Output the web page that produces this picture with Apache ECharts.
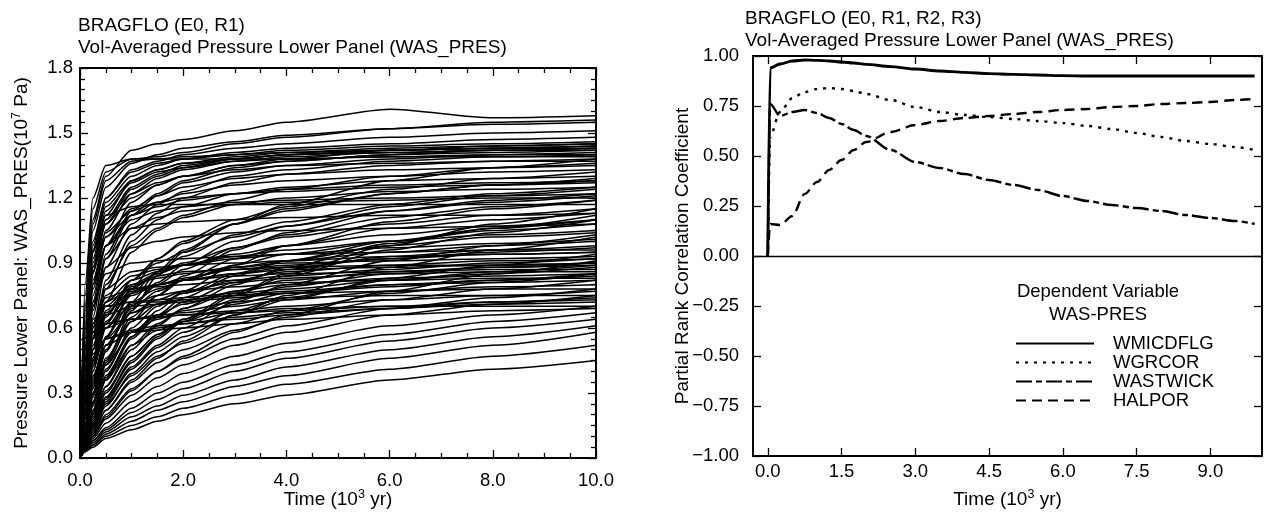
<!DOCTYPE html>
<html><head><meta charset="utf-8">
<script src="https://cdn.jsdelivr.net/npm/echarts@6/dist/echarts.min.js"></script>
<style>html,body{margin:0;padding:0;background:#fff}#c{width:1270px;height:517px}</style>
</head><body><div id="c"></div>
<script>
// ---------- DATA ----------
const leftTitles = ['BRAGFLO (E0, R1)', 'Vol-Averaged Pressure Lower Panel (WAS_PRES)'];
const rightTitles = ['BRAGFLO (E0, R1, R2, R3)', 'Vol-Averaged Pressure Lower Panel (WAS_PRES)'];
const legendHeader = ['Dependent Variable', 'WAS-PRES'];

// time (10^3 yr) for the pressure curves
const pressTime = [0, 0.1, 0.25, 0.5, 1, 1.5, 2, 3, 4, 6, 8, 10];
// volume-averaged pressure, lower panel (10^7 Pa), one row per realization
const pressCurves = [
  [0, 0.70, 1.10, 1.30, 1.42, 1.45, 1.47, 1.51, 1.55, 1.61, 1.57, 1.58],
  [0, 0.75, 1.15, 1.32, 1.38, 1.39, 1.41, 1.45, 1.48, 1.52, 1.55, 1.56],
  [0, 0.65, 1.05, 1.25, 1.36, 1.40, 1.43, 1.46, 1.49, 1.52, 1.54, 1.55],
  [0, 0.60, 0.98, 1.20, 1.33, 1.37, 1.40, 1.43, 1.45, 1.48, 1.50, 1.51],
  [0, 0.55, 0.95, 1.18, 1.30, 1.35, 1.38, 1.41, 1.43, 1.45, 1.47, 1.48],
  [0, 0.80, 1.20, 1.35, 1.38, 1.38, 1.39, 1.40, 1.42, 1.44, 1.45, 1.46],
  [0, 0.50, 0.90, 1.12, 1.28, 1.33, 1.36, 1.39, 1.41, 1.43, 1.44, 1.45],
  [0, 0.45, 0.85, 1.10, 1.25, 1.31, 1.35, 1.38, 1.40, 1.42, 1.43, 1.44],
  [0, 0.40, 0.80, 1.05, 1.22, 1.29, 1.33, 1.37, 1.39, 1.41, 1.42, 1.43],
  [0, 0.62, 1.00, 1.20, 1.32, 1.36, 1.38, 1.40, 1.41, 1.42, 1.43, 1.43],
  [0, 0.35, 0.72, 0.98, 1.18, 1.26, 1.30, 1.35, 1.37, 1.40, 1.41, 1.42],
  [0, 0.58, 0.96, 1.16, 1.28, 1.33, 1.36, 1.38, 1.40, 1.41, 1.42, 1.42],
  [0, 0.30, 0.65, 0.92, 1.12, 1.21, 1.27, 1.32, 1.35, 1.38, 1.40, 1.41],
  [0, 0.52, 0.92, 1.14, 1.27, 1.32, 1.34, 1.37, 1.38, 1.39, 1.40, 1.40],
  [0, 0.28, 0.60, 0.88, 1.08, 1.17, 1.23, 1.30, 1.33, 1.37, 1.39, 1.40],
  [0, 0.68, 1.08, 1.28, 1.37, 1.38, 1.38, 1.38, 1.38, 1.39, 1.39, 1.39],
  [0, 0.25, 0.55, 0.82, 1.03, 1.13, 1.20, 1.27, 1.31, 1.35, 1.37, 1.38],
  [0, 0.48, 0.88, 1.10, 1.22, 1.27, 1.30, 1.33, 1.35, 1.36, 1.37, 1.37],
  [0, 0.42, 0.80, 1.02, 1.15, 1.21, 1.25, 1.29, 1.31, 1.33, 1.34, 1.35],
  [0, 0.38, 0.75, 0.98, 1.12, 1.18, 1.22, 1.26, 1.28, 1.30, 1.32, 1.33],
  [0, 0.22, 0.50, 0.78, 1.00, 1.10, 1.16, 1.22, 1.25, 1.28, 1.29, 1.30],
  [0, 0.45, 0.82, 1.02, 1.12, 1.16, 1.19, 1.22, 1.24, 1.26, 1.27, 1.28],
  [0, 0.20, 0.46, 0.72, 0.95, 1.05, 1.11, 1.17, 1.20, 1.23, 1.24, 1.25],
  [0, 0.40, 0.78, 0.98, 1.10, 1.14, 1.16, 1.18, 1.19, 1.20, 1.21, 1.22],
  [0, 0.55, 0.95, 1.12, 1.16, 1.17, 1.17, 1.17, 1.17, 1.17, 1.17, 1.17],
  [0, 0.35, 0.70, 0.92, 1.06, 1.11, 1.14, 1.17, 1.18, 1.19, 1.20, 1.20],
  [0, 0.50, 0.88, 1.08, 1.20, 1.26, 1.30, 1.35, 1.38, 1.42, 1.44, 1.45],
  [0, 0.33, 0.68, 0.94, 1.14, 1.22, 1.28, 1.34, 1.37, 1.40, 1.42, 1.43],
  [0, 0.46, 0.86, 1.08, 1.24, 1.30, 1.34, 1.38, 1.40, 1.42, 1.43, 1.44],
  [0, 0.18, 0.40, 0.62, 0.82, 0.92, 0.99, 1.08, 1.14, 1.22, 1.26, 1.29],
  [0, 0.15, 0.35, 0.56, 0.76, 0.86, 0.93, 1.03, 1.09, 1.17, 1.22, 1.25],
  [0, 0.22, 0.45, 0.65, 0.82, 0.90, 0.95, 1.02, 1.07, 1.14, 1.18, 1.21],
  [0, 0.12, 0.30, 0.50, 0.70, 0.80, 0.87, 0.97, 1.03, 1.11, 1.16, 1.19],
  [0, 0.20, 0.42, 0.62, 0.78, 0.85, 0.90, 0.97, 1.02, 1.08, 1.12, 1.15],
  [0, 0.10, 0.26, 0.45, 0.65, 0.75, 0.82, 0.92, 0.98, 1.06, 1.10, 1.13],
  [0, 0.25, 0.50, 0.68, 0.80, 0.85, 0.89, 0.94, 0.98, 1.03, 1.07, 1.10],
  [0, 0.14, 0.32, 0.52, 0.69, 0.77, 0.82, 0.89, 0.94, 1.00, 1.05, 1.08],
  [0, 0.28, 0.55, 0.72, 0.82, 0.86, 0.89, 0.93, 0.96, 1.00, 1.03, 1.05],
  [0, 0.09, 0.22, 0.40, 0.60, 0.70, 0.76, 0.85, 0.91, 0.98, 1.02, 1.04],
  [0, 0.30, 0.58, 0.75, 0.84, 0.87, 0.89, 0.92, 0.94, 0.97, 0.99, 1.01],
  [0, 0.16, 0.36, 0.56, 0.72, 0.78, 0.82, 0.88, 0.91, 0.95, 0.98, 1.00],
  [0, 0.08, 0.20, 0.36, 0.55, 0.65, 0.72, 0.81, 0.87, 0.93, 0.96, 0.98],
  [0, 0.32, 0.60, 0.72, 0.78, 0.80, 0.82, 0.85, 0.88, 0.92, 0.95, 0.97],
  [0, 0.18, 0.40, 0.60, 0.75, 0.80, 0.83, 0.87, 0.89, 0.92, 0.94, 0.95],
  [0, 0.26, 0.52, 0.70, 0.80, 0.83, 0.85, 0.88, 0.90, 0.91, 0.92, 0.93],
  [0, 0.12, 0.28, 0.46, 0.63, 0.71, 0.76, 0.82, 0.86, 0.89, 0.91, 0.92],
  [0, 0.35, 0.62, 0.74, 0.78, 0.79, 0.80, 0.82, 0.84, 0.87, 0.90, 0.92],
  [0, 0.20, 0.44, 0.63, 0.76, 0.80, 0.82, 0.85, 0.87, 0.88, 0.89, 0.90],
  [0, 0.07, 0.18, 0.33, 0.52, 0.62, 0.69, 0.77, 0.82, 0.86, 0.88, 0.89],
  [0, 0.38, 0.62, 0.70, 0.72, 0.73, 0.74, 0.76, 0.78, 0.82, 0.85, 0.88],
  [0, 0.24, 0.50, 0.67, 0.77, 0.80, 0.82, 0.84, 0.85, 0.86, 0.87, 0.87],
  [0, 0.14, 0.33, 0.52, 0.67, 0.73, 0.77, 0.81, 0.83, 0.85, 0.86, 0.86],
  [0, 0.30, 0.55, 0.66, 0.70, 0.71, 0.72, 0.74, 0.76, 0.79, 0.82, 0.85],
  [0, 0.10, 0.24, 0.41, 0.58, 0.66, 0.71, 0.77, 0.80, 0.83, 0.84, 0.85],
  [0, 0.42, 0.64, 0.70, 0.72, 0.72, 0.73, 0.75, 0.77, 0.80, 0.82, 0.84],
  [0, 0.20, 0.43, 0.60, 0.71, 0.75, 0.77, 0.79, 0.81, 0.82, 0.83, 0.83],
  [0, 0.06, 0.16, 0.30, 0.47, 0.57, 0.63, 0.71, 0.76, 0.80, 0.81, 0.82],
  [0, 0.27, 0.50, 0.60, 0.64, 0.66, 0.67, 0.70, 0.73, 0.77, 0.79, 0.80],
  [0, 0.16, 0.37, 0.55, 0.67, 0.71, 0.73, 0.75, 0.76, 0.77, 0.78, 0.78],
  [0, 0.34, 0.55, 0.62, 0.64, 0.65, 0.66, 0.68, 0.70, 0.73, 0.75, 0.77],
  [0, 0.11, 0.26, 0.43, 0.58, 0.64, 0.68, 0.72, 0.74, 0.75, 0.75, 0.75],
  [0, 0.24, 0.45, 0.55, 0.59, 0.61, 0.62, 0.64, 0.66, 0.69, 0.72, 0.74],
  [0, 0.45, 0.58, 0.62, 0.64, 0.65, 0.66, 0.67, 0.68, 0.70, 0.72, 0.73],
  [0, 0.18, 0.38, 0.52, 0.58, 0.60, 0.62, 0.65, 0.67, 0.69, 0.71, 0.72],
  [0, 0.08, 0.20, 0.36, 0.52, 0.59, 0.63, 0.67, 0.69, 0.70, 0.70, 0.70],
  [0, 0.30, 0.48, 0.55, 0.58, 0.59, 0.60, 0.62, 0.64, 0.66, 0.68, 0.69],
  [0, 0.06, 0.14, 0.25, 0.38, 0.47, 0.53, 0.62, 0.68, 0.76, 0.81, 0.85],
  [0, 0.05, 0.12, 0.22, 0.35, 0.44, 0.50, 0.59, 0.65, 0.73, 0.78, 0.82],
  [0, 0.05, 0.11, 0.20, 0.32, 0.40, 0.46, 0.55, 0.61, 0.69, 0.74, 0.78],
  [0, 0.04, 0.10, 0.18, 0.29, 0.37, 0.43, 0.52, 0.58, 0.66, 0.71, 0.75],
  [0, 0.04, 0.09, 0.16, 0.26, 0.33, 0.39, 0.47, 0.53, 0.61, 0.66, 0.70],
  [0, 0.04, 0.08, 0.14, 0.23, 0.30, 0.35, 0.43, 0.49, 0.57, 0.63, 0.67],
  [0, 0.03, 0.08, 0.13, 0.21, 0.27, 0.32, 0.40, 0.46, 0.54, 0.60, 0.64],
  [0, 0.03, 0.07, 0.12, 0.19, 0.24, 0.29, 0.36, 0.42, 0.50, 0.56, 0.61],
  [0, 0.03, 0.06, 0.11, 0.17, 0.22, 0.26, 0.33, 0.38, 0.46, 0.52, 0.58],
  [0, 0.03, 0.06, 0.10, 0.15, 0.19, 0.23, 0.29, 0.34, 0.41, 0.47, 0.52],
  [0, 0.03, 0.05, 0.09, 0.13, 0.17, 0.20, 0.25, 0.29, 0.36, 0.41, 0.45],
  [0, 0.07, 0.16, 0.28, 0.44, 0.55, 0.63, 0.75, 0.84, 0.96, 1.04, 1.10],
  [0, 0.06, 0.15, 0.27, 0.42, 0.52, 0.60, 0.72, 0.80, 0.91, 0.98, 1.03],
  [0, 0.08, 0.19, 0.33, 0.50, 0.61, 0.69, 0.80, 0.88, 0.99, 1.06, 1.12],
  [0, 0.09, 0.21, 0.37, 0.56, 0.68, 0.77, 0.89, 0.98, 1.09, 1.15, 1.19],
  [0, 0.11, 0.25, 0.43, 0.63, 0.75, 0.84, 0.96, 1.04, 1.14, 1.19, 1.22],
  [0, 0.06, 0.14, 0.26, 0.41, 0.51, 0.58, 0.68, 0.74, 0.82, 0.86, 0.89],
  [0, 0.07, 0.17, 0.31, 0.47, 0.57, 0.64, 0.73, 0.79, 0.85, 0.88, 0.90],
  [0, 0.13, 0.30, 0.50, 0.70, 0.81, 0.89, 1.00, 1.07, 1.16, 1.21, 1.24],
  [0, 0.05, 0.13, 0.24, 0.39, 0.49, 0.56, 0.66, 0.73, 0.83, 0.89, 0.94],
  [0, 0.40, 0.72, 0.85, 0.90, 0.91, 0.92, 0.93, 0.94, 0.95, 0.96, 0.96],
  [0, 0.15, 0.34, 0.55, 0.78, 0.92, 1.00, 1.10, 1.16, 1.24, 1.29, 1.32],
  [0, 0.10, 0.25, 0.44, 0.68, 0.84, 0.95, 1.08, 1.17, 1.28, 1.34, 1.38],
  [0, 0.36, 0.70, 0.88, 0.97, 1.00, 1.02, 1.04, 1.05, 1.06, 1.07, 1.08],
  [0, 0.44, 0.80, 0.98, 1.06, 1.08, 1.09, 1.10, 1.11, 1.12, 1.12, 1.13],
  [0, 0.26, 0.56, 0.80, 0.98, 1.06, 1.12, 1.19, 1.24, 1.30, 1.34, 1.36],
  [0, 0.12, 0.29, 0.49, 0.72, 0.86, 0.96, 1.08, 1.15, 1.22, 1.26, 1.28],
  [0, 0.22, 0.46, 0.66, 0.79, 0.84, 0.86, 0.87, 0.88, 0.89, 0.89, 0.90],
  [0, 0.09, 0.22, 0.38, 0.56, 0.66, 0.74, 0.84, 0.91, 1.00, 1.06, 1.10],
  [0, 0.33, 0.62, 0.78, 0.86, 0.88, 0.89, 0.90, 0.91, 0.93, 0.94, 0.95],
  [0, 0.05, 0.12, 0.22, 0.36, 0.46, 0.54, 0.66, 0.75, 0.88, 0.96, 1.02],
  [0, 0.06, 0.15, 0.28, 0.45, 0.56, 0.64, 0.76, 0.85, 0.98, 1.08, 1.15],
  [0, 0.50, 0.86, 1.04, 1.14, 1.18, 1.20, 1.22, 1.23, 1.25, 1.26, 1.27],
  [0, 0.04, 0.10, 0.19, 0.31, 0.40, 0.47, 0.58, 0.66, 0.77, 0.85, 0.91]
];

// time (10^3 yr) for the partial rank correlation curves
const prccTime = [0, 0.05, 0.25, 0.5, 0.75, 1.0, 1.25, 1.5, 1.75, 2.0, 2.5, 3.0, 3.5, 4.0, 4.5, 5.0, 5.5, 6.0, 6.5, 7.0, 7.5, 8.0, 8.5, 9.0, 9.5, 9.9];
const prccNames = ['WMICDFLG', 'WGRCOR', 'WASTWICK', 'HALPOR'];
const wmicdflg = [0, 0.94, 0.96, 0.975, 0.98, 0.978, 0.975, 0.97, 0.965, 0.958, 0.947, 0.935, 0.925, 0.918, 0.912, 0.908, 0.905, 0.902, 0.90, 0.90, 0.90, 0.90, 0.90, 0.90, 0.90, 0.90];
const wgrcor = [0, 0.60, 0.72, 0.79, 0.82, 0.835, 0.84, 0.835, 0.825, 0.81, 0.78, 0.745, 0.72, 0.705, 0.695, 0.685, 0.675, 0.665, 0.65, 0.635, 0.615, 0.595, 0.575, 0.56, 0.545, 0.53];
const wastwick = [0, 0.76, 0.70, 0.72, 0.73, 0.715, 0.69, 0.66, 0.63, 0.60, 0.53, 0.47, 0.44, 0.41, 0.38, 0.355, 0.33, 0.30, 0.275, 0.255, 0.24, 0.225, 0.205, 0.19, 0.175, 0.16];
const halpor = [0, 0.16, 0.155, 0.20, 0.31, 0.37, 0.43, 0.48, 0.53, 0.57, 0.62, 0.655, 0.675, 0.69, 0.70, 0.71, 0.72, 0.73, 0.735, 0.745, 0.75, 0.76, 0.765, 0.77, 0.78, 0.785];

const rightXTicks = [0, 1.5, 3, 4.5, 6, 7.5, 9];

// ---------- CHART ----------
const FONT = 'Liberation Sans';
const BLACK = '#000';
const LBL = 18.5;
const chart = echarts.init(document.getElementById('c'), null, {renderer: 'canvas'});

const richName = {
  t: {fontFamily: FONT, fontSize: 19, color: BLACK, lineHeight: 24},
  s: {fontFamily: FONT, fontSize: 12.5, color: BLACK, verticalAlign: 'top', lineHeight: 12}
};

function frameAxis(extra) {
  return Object.assign({
    type: 'value',
    nameMoveOverlap: false,
    axisLine: {show: true, onZero: false, lineStyle: {color: BLACK, width: 2}},
    axisTick: {show: true, inside: true, length: 8, lineStyle: {color: BLACK, width: 1.3}},
    minorTick: {show: false},
    splitLine: {show: false},
    axisLabel: {show: true, color: BLACK, fontFamily: FONT, fontSize: LBL}
  }, extra);
}

const pressSeries = pressCurves.map(row => ({
  type: 'line', xAxisIndex: 0, yAxisIndex: 0,
  symbol: 'none', showSymbol: false, silent: true,
  smooth: 0.25, smoothMonotone: 'x',
  lineStyle: {color: BLACK, width: 1.5},
  data: row.map((v, i) => [pressTime[i], v])
}));

const prccData = [wmicdflg, wgrcor, wastwick, halpor];
const prccStyles = [
  {type: 'solid', width: 2.8},
  {type: [3, 6], width: 2.4},
  {type: [16, 4, 6, 4], width: 2.4},
  {type: [10, 6], width: 2.4}
];
const prccSeries = prccData.map((vals, k) => ({
  name: prccNames[k], type: 'line', xAxisIndex: 2, yAxisIndex: 2,
  symbol: 'none', showSymbol: false, silent: true,
  smooth: 0.3, smoothMonotone: 'x',
  lineStyle: Object.assign({color: BLACK, cap: 'butt'}, prccStyles[k]),
  itemStyle: {color: BLACK},
  data: vals.map((v, i) => [prccTime[i], v]),
  markLine: k === 0 ? {
    silent: true, symbol: 'none', label: {show: false},
    lineStyle: {color: BLACK, type: 'solid', width: 1.3},
    data: [{yAxis: 0}]
  } : undefined
}));

const titleStyle = {fontFamily: FONT, fontSize: 19, fontWeight: 'normal', color: BLACK};
const option = {
  animation: false,
  backgroundColor: '#fff',
  title: [
    {text: leftTitles[0], left: 73, top: 11, padding: 5, textStyle: titleStyle},
    {text: leftTitles[1], left: 73, top: 33, padding: 5, textStyle: titleStyle},
    {text: rightTitles[0], left: 740, top: 4, padding: 5, textStyle: titleStyle},
    {text: rightTitles[1], left: 740, top: 26, padding: 5, textStyle: titleStyle}
  ],
  grid: [
    {left: 80, top: 68, width: 516, height: 390},
    {left: 753, top: 56, width: 509, height: 400}
  ],
  legend: {
    data: prccNames,
    orient: 'vertical', left: 1010, top: 329,
    itemWidth: 78, itemHeight: 14, itemGap: 0,
    selectedMode: false,
    itemStyle: {opacity: 0, borderWidth: 0},
    textStyle: {fontFamily: FONT, fontSize: LBL, color: BLACK, padding: [0, 0, 0, 14]}
  },
  graphic: [
    {type: 'text', x: 1098, y: 292, silent: true,
      style: {text: legendHeader[0], textAlign: 'center', textVerticalAlign: 'middle', font: LBL + 'px "Liberation Sans"', fill: BLACK}},
    {type: 'text', x: 1098, y: 315, silent: true,
      style: {text: legendHeader[1], textAlign: 'center', textVerticalAlign: 'middle', font: LBL + 'px "Liberation Sans"', fill: BLACK}}
  ],
  xAxis: [
    frameAxis({gridIndex: 0, position: 'bottom', min: 0, max: 10, interval: 2,
      minorTick: {show: true, splitNumber: 4, length: 5, lineStyle: {color: BLACK, width: 1.3}},
      axisLabel: {color: BLACK, fontFamily: FONT, fontSize: LBL, margin: 13, formatter: v => v.toFixed(1)},
      name: '{t|Time (10}{s|3}{t| yr)}', nameLocation: 'middle', nameGap: 30,
      nameTextStyle: {rich: richName}}),
    frameAxis({gridIndex: 0, position: 'top', min: 0, max: 10, interval: 2,
      minorTick: {show: true, splitNumber: 4, length: 5, lineStyle: {color: BLACK, width: 1.3}},
      axisLabel: {show: false}}),
    frameAxis({gridIndex: 1, position: 'bottom', min: -0.3, max: 10.05,
      axisTick: {show: true, inside: true, length: 8, customValues: rightXTicks, lineStyle: {color: BLACK, width: 1.3}},
      axisLabel: {color: BLACK, fontFamily: FONT, fontSize: LBL, margin: 6, customValues: rightXTicks, formatter: v => v.toFixed(1)},
      name: '{t|Time (10}{s|3}{t| yr)}', nameLocation: 'middle', nameGap: 32,
      nameTextStyle: {rich: richName}}),
    frameAxis({gridIndex: 1, position: 'top', min: -0.3, max: 10.05,
      axisTick: {show: true, inside: true, length: 8, customValues: rightXTicks, lineStyle: {color: BLACK, width: 1.3}},
      axisLabel: {show: false}})
  ],
  yAxis: [
    frameAxis({gridIndex: 0, position: 'left', min: 0, max: 1.8, interval: 0.3,
      minorTick: {show: true, splitNumber: 6, length: 5, lineStyle: {color: BLACK, width: 1.3}},
      axisLabel: {color: BLACK, fontFamily: FONT, fontSize: LBL, margin: 7, formatter: v => v.toFixed(1)},
      name: '{t|Pressure Lower Panel: WAS_PRES(10}{s|7}{t| Pa)}', nameLocation: 'middle', nameGap: 46, nameRotate: 90,
      nameTextStyle: {rich: richName}}),
    frameAxis({gridIndex: 0, position: 'right', min: 0, max: 1.8, interval: 0.3,
      minorTick: {show: true, splitNumber: 6, length: 5, lineStyle: {color: BLACK, width: 1.3}},
      axisLabel: {show: false}}),
    frameAxis({gridIndex: 1, position: 'left', min: -1, max: 1, interval: 0.25,
      axisLabel: {color: BLACK, fontFamily: FONT, fontSize: LBL, margin: 14,
        formatter: v => (v < 0 ? '\u2212' : '') + Math.abs(v).toFixed(2)},
      name: 'Partial Rank Correlation Coefficient', nameLocation: 'middle', nameGap: 61, nameRotate: 90,
      nameTextStyle: {fontFamily: FONT, fontSize: 19, color: BLACK}}),
    frameAxis({gridIndex: 1, position: 'right', min: -1, max: 1, interval: 0.25,
      axisLabel: {show: false}})
  ],
  series: pressSeries.concat(prccSeries)
};
chart.setOption(option);
</script>
</body></html>
